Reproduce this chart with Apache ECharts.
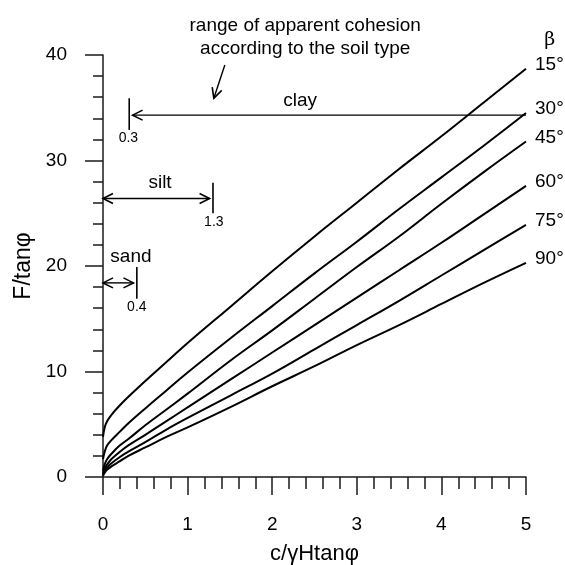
<!DOCTYPE html>
<html>
<head>
<meta charset="utf-8">
<script src="https://cdn.jsdelivr.net/npm/echarts@6/dist/echarts.min.js"></script>
<style>html,body{margin:0;padding:0;background:#fff}#c{width:565px;height:565px}</style>
</head>
<body>
<div id="c"></div>
<script>
// c/γHtanφ values (x)
const cValues = [0, 0.02, 0.05, 0.1, 0.2, 0.3, 0.5, 0.75, 1, 1.5, 2, 2.5, 3, 3.5, 4, 4.5, 5];
// F/tanφ for each slope angle β
const beta15 = [3.8, 4.7, 5.3, 5.9, 6.8, 7.6, 9.1, 10.9, 12.7, 16.1, 19.5, 22.8, 26.0, 29.2, 32.3, 35.5, 38.7];
const beta30 = [1.7, 2.4, 3.0, 3.5, 4.3, 5.1, 6.5, 8.2, 9.9, 13.1, 16.2, 19.3, 22.3, 25.4, 28.4, 31.4, 34.5];
const beta45 = [0.6, 1.2, 1.7, 2.2, 3.0, 3.6, 4.9, 6.4, 7.9, 11.0, 13.9, 16.9, 19.9, 22.8, 25.9, 28.9, 31.8];
const beta60 = [0.3, 0.8, 1.2, 1.7, 2.4, 3.0, 4.0, 5.3, 6.6, 9.2, 11.8, 14.4, 17.0, 19.6, 22.2, 24.9, 27.6];
const beta75 = [0.2, 0.6, 0.9, 1.3, 1.9, 2.4, 3.3, 4.5, 5.6, 7.7, 9.8, 12.1, 14.4, 16.7, 19.1, 21.5, 23.9];
const beta90 = [0.1, 0.4, 0.7, 1.0, 1.5, 2.0, 2.8, 3.8, 4.7, 6.6, 8.6, 10.5, 12.5, 14.4, 16.4, 18.4, 20.3];
const curveNames = ['15°', '30°', '45°', '60°', '75°', '90°'];
const curves = [beta15, beta30, beta45, beta60, beta75, beta90];

// annotation arrows: [x1, y1, x2, y2, headAtStart, headAtEnd]
const arrowSegs = [
  [0.35, 34.3, 5.0, 34.3, 1, 0],
  [0, 26.4, 1.26, 26.4, 1, 1],
  [0, 18.4, 0.36, 18.4, 1, 1],
  [1.44, 39.05, 1.31, 35.9, 0, 1]
];
// limit bars: [x, yLow, yHigh]
const limitBars = [[0.31, 32.9, 35.9], [1.30, 25.0, 27.9], [0.40, 16.9, 19.9]];
// annotation texts
const noteX = [2.39, 2.39, 2.33, 0.674, 0.33, 0.30, 1.31, 0.40, 5.28];
const noteY = [42.73, 40.6, 35.67, 27.87, 20.92, 32.13, 24.14, 16.14, 41.4];
const noteText = ['range of apparent cohesion', 'according to the soil type', 'clay', 'silt', 'sand', '0.3', '1.3', '0.4', 'β'];
const noteSize = [19, 19, 19, 19, 19, 14, 14, 14, 19];
const xTicks = [0, 1, 2, 3, 4, 5];
const yTicks = [0, 10, 20, 30, 40];

const FONT = '"Liberation Sans", Arial, sans-serif';
const chart = echarts.init(document.getElementById('c'), null, {renderer: 'canvas'});

const lineSeries = curves.map((vals, i) => ({
  type: 'line',
  name: curveNames[i],
  data: cValues.map((x, j) => [x, vals[j]]),
  showSymbol: false,
  smooth: 0.4,
  lineStyle: {color: '#000', width: 2},
  endLabel: {
    show: true,
    formatter: curveNames[i],
    color: '#000',
    fontFamily: FONT,
    fontSize: 19,
    offset: [1, -4]
  },
  z: 3
}));

function head(api, tip, from, color) {
  const dx = from[0] - tip[0], dy = from[1] - tip[1];
  const len = Math.sqrt(dx * dx + dy * dy) || 1;
  const ux = dx / len, uy = dy / len;
  const L = 10, W = 5;
  const bx = tip[0] + ux * L, by = tip[1] + uy * L;
  const px = -uy * W, py = ux * W;
  return {
    type: 'polyline',
    shape: {points: [[bx + px, by + py], tip, [bx - px, by - py]]},
    style: {stroke: color, lineWidth: 1.6, fill: null}
  };
}

const arrowSeries = {
  type: 'custom',
  data: arrowSegs.map((a, i) => [a[0], a[1], a[2], a[3], i]),
  clip: false,
  silent: true,
  renderItem: function (params, api) {
    const a = arrowSegs[params.dataIndex];
    const p1 = api.coord([a[0], a[1]]);
    const p2 = api.coord([a[2], a[3]]);
    const children = [{
      type: 'line',
      shape: {x1: p1[0], y1: p1[1], x2: p2[0], y2: p2[1]},
      style: {stroke: '#000', lineWidth: 1.4}
    }];
    if (a[4]) children.push(head(api, p1, p2, '#000'));
    if (a[5]) children.push(head(api, p2, p1, '#000'));
    return {type: 'group', children: children};
  },
  z: 4
};

const barSeries = {
  type: 'custom',
  data: limitBars.map(b => [b[0], b[1], b[2]]),
  clip: false,
  silent: true,
  renderItem: function (params, api) {
    const p1 = api.coord([api.value(0), api.value(1)]);
    const p2 = api.coord([api.value(0), api.value(2)]);
    return {
      type: 'line',
      shape: {x1: p1[0], y1: p1[1], x2: p2[0], y2: p2[1]},
      style: {stroke: '#000', lineWidth: 1.6}
    };
  },
  z: 4
};

const textSeries = {
  type: 'custom',
  data: noteX.map((x, i) => [x, noteY[i]]),
  clip: false,
  silent: true,
  renderItem: function (params, api) {
    const i = params.dataIndex;
    const p = api.coord([api.value(0), api.value(1)]);
    const isBeta = noteText[i] === 'β';
    return {
      type: 'text',
      x: p[0], y: p[1],
      style: {
        text: noteText[i],
        fill: '#000',
        font: noteSize[i] + 'px ' + (isBeta ? '"DejaVu Serif", serif' : FONT),
        align: 'center',
        verticalAlign: 'middle'
      }
    };
  },
  z: 5
};

const axisColor = '#1a1a1a';
chart.setOption({
  animation: false,
  backgroundColor: '#fff',
  grid: {left: 103, right: 39, top: 55, bottom: 88, containLabel: false, outerBoundsMode: 'none'},
  xAxis: {
    type: 'value',
    min: 0, max: 5, interval: 1,
    name: 'c/γHtanφ',
    nameLocation: 'middle',
    nameGap: 66,
    nameTextStyle: {fontFamily: FONT, fontSize: 22, color: '#000'},
    axisLine: {show: true, onZero: false, lineStyle: {color: axisColor, width: 1.5}},
    axisTick: {show: true, inside: false, length: 18, lineStyle: {color: axisColor, width: 1.5}},
    minorTick: {show: true, splitNumber: 5, length: 12, lineStyle: {color: axisColor, width: 1.5}},
    splitLine: {show: false},
    axisLabel: {
      margin: 38, fontFamily: FONT, fontSize: 19, color: '#000',
      formatter: v => xTicks.indexOf(v) >= 0 ? String(v) : ''
    }
  },
  yAxis: {
    type: 'value',
    min: 0, max: 40, interval: 10,
    name: 'F/tanφ',
    nameLocation: 'middle',
    nameGap: 68,
    nameTextStyle: {fontFamily: FONT, fontSize: 23, color: '#000'},
    axisLine: {show: true, onZero: false, lineStyle: {color: axisColor, width: 1.5}},
    axisTick: {show: true, inside: false, length: 18, lineStyle: {color: axisColor, width: 1.5}},
    minorTick: {show: true, splitNumber: 5, length: 10, lineStyle: {color: axisColor, width: 1.5}},
    splitLine: {show: false},
    axisLabel: {
      margin: 36, fontFamily: FONT, fontSize: 19, color: '#000',
      formatter: v => yTicks.indexOf(v) >= 0 ? String(v) : ''
    }
  },
  series: lineSeries.concat([arrowSeries, barSeries, textSeries])
});
</script>
</body>
</html>
